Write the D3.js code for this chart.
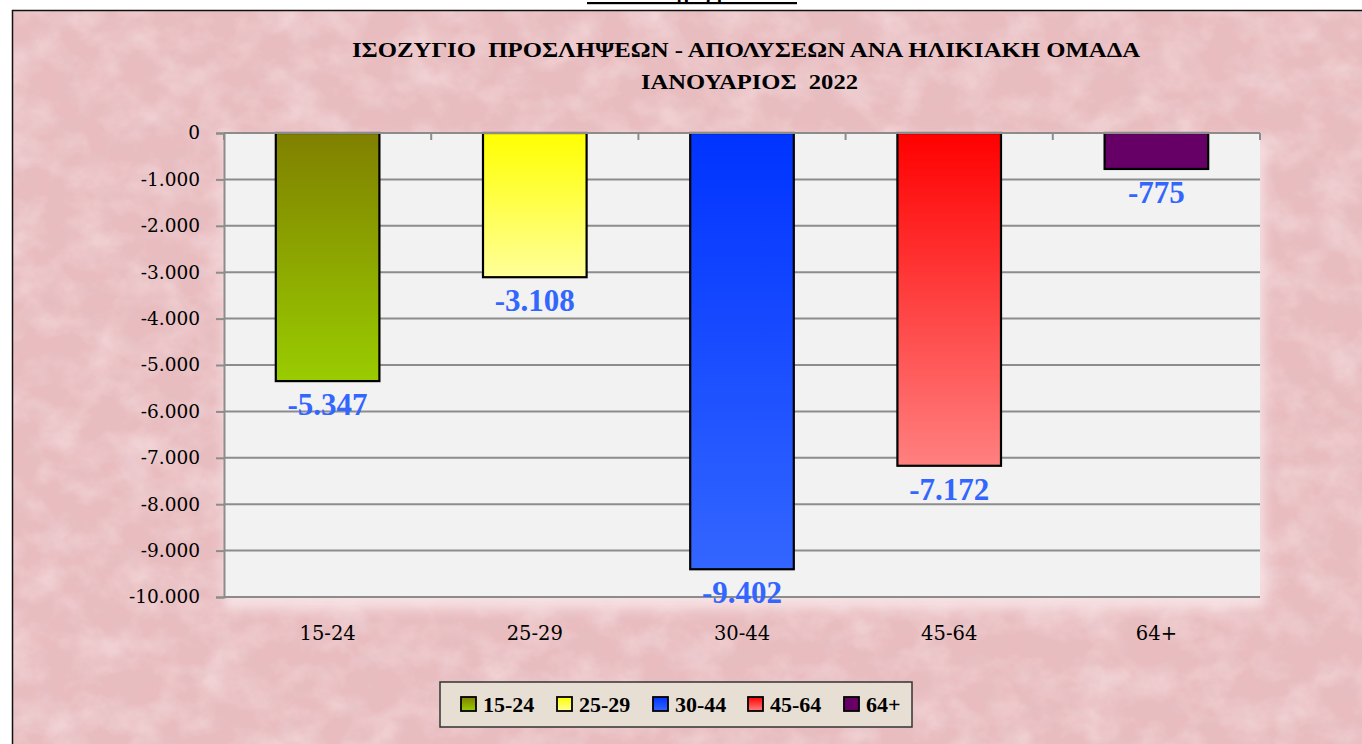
<!DOCTYPE html>
<html><head><meta charset="utf-8">
<script src="https://cdn.jsdelivr.net/npm/d3@7"></script>
<style>
html,body{margin:0;padding:0;background:#fff;overflow:hidden;}
svg{display:block;}
text{white-space:pre;}
</style></head>
<body>
<svg id="chart" width="1362" height="744"></svg>
<script>
const categories = ["15-24","25-29","30-44","45-64","64+"];
const values = [-5347,-3108,-9402,-7172,-775];
const valueLabels = ["-5.347","-3.108","-9.402","-7.172","-775"];
const yTicks = [0,-1000,-2000,-3000,-4000,-5000,-6000,-7000,-8000,-9000,-10000];
const yTickLabels = ["0","-1.000","-2.000","-3.000","-4.000","-5.000","-6.000","-7.000","-8.000","-9.000","-10.000"];
const titleLines = ["ΙΣΟΖΥΓΙΟ  ΠΡΟΣΛΗΨΕΩΝ - ΑΠΟΛΥΣΕΩΝ ΑΝΑ ΗΛΙΚΙΑΚΗ ΟΜΑΔΑ","ΙΑΝΟΥΑΡΙΟΣ  2022"];
const headerText = "Διάγραμμα";
const gradTop = ["#808000","#ffff00","#0033ff","#ff0000","#660066"];
const gradBottom = ["#99cc00","#ffff99","#3366ff","#ff8080","#660066"];

(function(){
const svg = d3.select("#chart");
const defs = svg.append("defs");
const serif = "'Liberation Serif','Times New Roman',serif";
const wide = "'DejaVu Serif',serif";

// texture filters
const f1 = defs.append("filter").attr("id","tex").attr("x",0).attr("y",0).attr("width",1).attr("height",1);
f1.append("feTurbulence").attr("type","fractalNoise").attr("baseFrequency","0.025 0.03").attr("numOctaves",4).attr("seed",7);
f1.append("feColorMatrix").attr("type","matrix").attr("values","0 0 0 0 1  0 0 0 0 0.93  0 0 0 0 0.94  0.8 0 0 0 -0.32");
const f2 = defs.append("filter").attr("id","tex2").attr("x",0).attr("y",0).attr("width",1).attr("height",1);
f2.append("feTurbulence").attr("type","fractalNoise").attr("baseFrequency","0.05 0.06").attr("numOctaves",3).attr("seed",19);
f2.append("feColorMatrix").attr("type","matrix").attr("values","0 0 0 0 0.72  0 0 0 0 0.5  0 0 0 0 0.53  0 0.7 0 0 -0.3");
const blur = defs.append("filter").attr("id","glow").attr("x",-0.1).attr("y",-0.1).attr("width",1.2).attr("height",1.2);
blur.append("feGaussianBlur").attr("stdDeviation",6);

// header (clipped at top, as in the source)
svg.append("text").attr("x",692).attr("y",-1).attr("text-anchor","middle")
  .attr("font-family",serif).attr("font-weight","bold").attr("font-size",20).text(headerText);
svg.append("rect").attr("x",587).attr("y",2).attr("width",210).attr("height",2.2).attr("fill","#000");

// frame
svg.append("rect").attr("x",12).attr("y",10).attr("width",1362).attr("height",760).attr("fill","#e9bdc0");
svg.append("rect").attr("x",12).attr("y",10).attr("width",1362).attr("height",760).attr("filter","url(#tex)");
svg.append("rect").attr("x",12).attr("y",10).attr("width",1362).attr("height",760).attr("filter","url(#tex2)");
svg.append("path").attr("d","M12.5,760 V10.5 H1362").attr("fill","none").attr("stroke","#111").attr("stroke-width",1.5);

// title
const t1 = svg.append("text").attr("x",352).attr("y",57).attr("font-family",serif)
  .attr("font-weight","bold").attr("font-size",21).attr("fill","#000")
  .attr("textLength",788).attr("lengthAdjust","spacingAndGlyphs").text(titleLines[0]);
const t2 = svg.append("text").attr("x",641).attr("y",89).attr("font-family",serif)
  .attr("font-weight","bold").attr("font-size",21).attr("fill","#000")
  .attr("textLength",217).attr("lengthAdjust","spacingAndGlyphs").text(titleLines[1]);

// scales
const pL=224,pR=1260,pT=133,pB=597;
const x = d3.scaleBand().domain(categories).range([pL,pR]).paddingInner(0.5).paddingOuter(0.25);
const y = d3.scaleLinear().domain([-10000,0]).range([pB,pT]);

// plot area glow + background
svg.append("rect").attr("x",pL).attr("y",pT+6).attr("width",pR-pL+4).attr("height",pB-pT+6)
  .attr("fill","#f8e4e6").attr("opacity",0.9).attr("filter","url(#glow)");
svg.append("rect").attr("x",pL).attr("y",pT).attr("width",pR-pL).attr("height",pB-pT).attr("fill","#f2f2f2");

// gridlines
svg.append("g").selectAll("line").data(yTicks.filter(d=>d!==0)).join("line")
  .attr("x1",pL).attr("x2",pR).attr("y1",d=>y(d)).attr("y2",d=>y(d))
  .attr("stroke","#8c8c8c").attr("stroke-width",2);

// gradients
categories.forEach((c,i)=>{
  const g = defs.append("linearGradient").attr("id","g"+i).attr("x1",0).attr("y1",0).attr("x2",0).attr("y2",1);
  g.append("stop").attr("offset","0%").attr("stop-color",gradTop[i]);
  g.append("stop").attr("offset","100%").attr("stop-color",gradBottom[i]);
});

// bars
svg.append("g").selectAll("rect").data(values).join("rect")
  .attr("x",(d,i)=>x(categories[i])).attr("width",x.bandwidth())
  .attr("y",y(0)).attr("height",d=>y(d)-y(0))
  .attr("fill",(d,i)=>`url(#g${i})`).attr("stroke","#000").attr("stroke-width",2.2);

// y axis
const yAxis = d3.axisLeft(y).tickValues(yTicks).tickSize(8).tickPadding(16)
  .tickFormat((d,i)=>yTickLabels[i]);
const ya = svg.append("g").attr("transform",`translate(${pL},0)`).call(yAxis);
ya.select(".domain").attr("stroke","#8c8c8c").attr("stroke-width",2);
ya.selectAll(".tick line").attr("stroke","#8c8c8c").attr("stroke-width",2);
ya.selectAll(".tick text").attr("font-family",wide).attr("font-size",18.5).attr("fill","#000");

// x axis at zero (top) with category boundary ticks
svg.append("line").attr("x1",pL).attr("x2",pR).attr("y1",y(0)).attr("y2",y(0))
  .attr("stroke","#8c8c8c").attr("stroke-width",2);
const bounds = d3.range(categories.length+1).map(i=>pL+i*x.step());
svg.append("g").selectAll("line").data(bounds).join("line")
  .attr("x1",d=>d).attr("x2",d=>d).attr("y1",y(0)).attr("y2",y(0)+7)
  .attr("stroke","#8c8c8c").attr("stroke-width",2);

// category labels below plot
svg.append("g").selectAll("text").data(categories).join("text")
  .attr("x",d=>x(d)+x.bandwidth()/2).attr("y",640).attr("text-anchor","middle")
  .attr("font-family",wide).attr("font-size",19.5).attr("fill","#000").text(d=>d);

// value labels
svg.append("g").selectAll("text").data(values).join("text")
  .attr("x",(d,i)=>x(categories[i])+x.bandwidth()/2).attr("y",d=>y(d)+34)
  .attr("text-anchor","middle").attr("font-family",serif).attr("font-weight","bold")
  .attr("font-size",31).attr("fill","#3366ff").text((d,i)=>valueLabels[i]);

// legend
const lg = svg.append("g");
lg.append("rect").attr("x",440).attr("y",682).attr("width",472).attr("height",45)
  .attr("fill","#e7dfd4").attr("stroke","#333").attr("stroke-width",1.5);
const legX = [461,557,653,748,844];
const items = lg.selectAll("g").data(categories).join("g")
  .attr("transform",(d,i)=>`translate(${legX[i]},697)`);
items.append("rect").attr("width",15).attr("height",14)
  .attr("fill",(d,i)=>`url(#g${i})`).attr("stroke","#000").attr("stroke-width",1.8);
items.append("text").attr("x",22).attr("y",15).attr("font-family",serif).attr("font-weight","bold")
  .attr("font-size",22).attr("fill","#000").text(d=>d);
})();
</script>
</body></html>
